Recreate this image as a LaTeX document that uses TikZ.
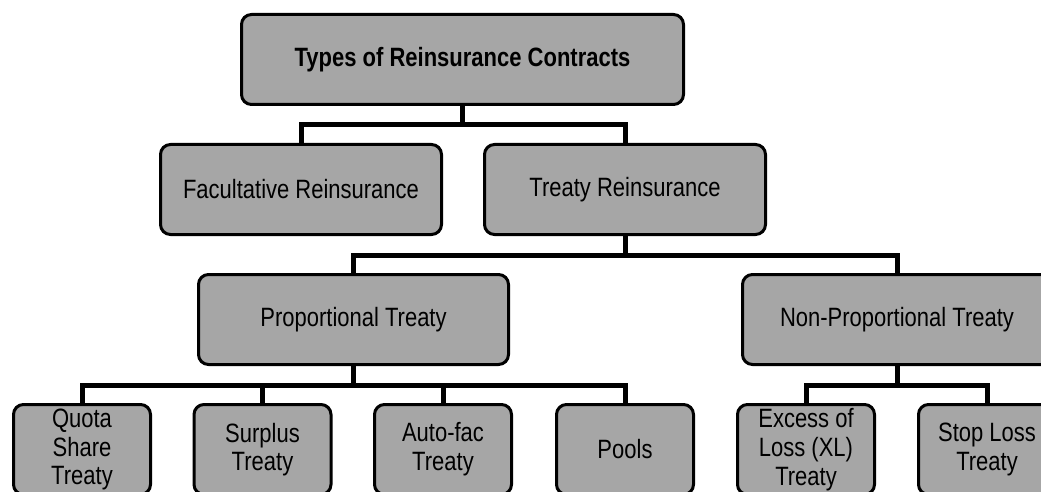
\documentclass[tikz,border=0pt]{standalone}
\usepackage{fontspec}
\setmainfont[FakeStretch=0.83]{Liberation Sans}
\definecolor{boxgray}{HTML}{A6A6A6}
\begin{document}
\begin{tikzpicture}[x=1pt,y=-1pt,
  box/.style={draw=black, line width=3pt, fill=boxgray, rounded corners=10pt,
    minimum height=90pt, inner sep=0pt, align=center,
    font=\fontsize{26.5}{28.7}\selectfont},
  link/.style={line width=5pt, line join=miter}]
\useasboundingbox (0,0) rectangle (1041,492);
\clip (0,0) rectangle (1041,492);

% level 0
\node[box, minimum width=442pt, font=\fontsize{26.5}{28.7}\selectfont\bfseries] (top) at (462.5,59.5) {Types of Reinsurance Contracts};

% level 1
\node[box, minimum width=281pt] (fac) at (301,189.5) {Facultative Reinsurance};
\node[box, minimum width=281pt] (treaty) at (625,189.5) {Treaty Reinsurance};

% level 2
\node[box, minimum width=310pt] (prop) at (353.5,319.5) {Proportional Treaty};
\node[box, minimum width=309pt] (nonprop) at (897,319.5) {Non-Proportional Treaty};

% level 3
\node[box, minimum width=137pt] (quota) at (82,449.5) {Quota\\Share\\Treaty};
\node[box, minimum width=137pt] (surplus) at (262.5,449.5) {Surplus\\Treaty};
\node[box, minimum width=137pt] (autofac) at (443,449.5) {Auto-fac\\Treaty};
\node[box, minimum width=137pt] (pools) at (625,449.5) {Pools};
\node[box, minimum width=137pt] (xl) at (806,449.5) {Excess of\\Loss (XL)\\Treaty};
\node[box, minimum width=137pt] (stop) at (987,449.5) {Stop Loss\\Treaty};

% horizontal bus levels
\coordinate (busA) at (0,125);
\coordinate (busB) at (0,255);
\coordinate (busC) at (0,385);

% connectors
\draw[link] (top.south) -- (top.south |- busA) -| (fac.north);
\draw[link] (top.south) -- (top.south |- busA) -| (treaty.north);
\draw[link] (treaty.south) -- (treaty.south |- busB) -| (prop.north);
\draw[link] (treaty.south) -- (treaty.south |- busB) -| (nonprop.north);
\draw[link] (prop.south) -- (prop.south |- busC) -| (quota.north);
\draw[link] (prop.south) -- (prop.south |- busC) -| (surplus.north);
\draw[link] (prop.south) -- (prop.south |- busC) -| (autofac.north);
\draw[link] (prop.south) -- (prop.south |- busC) -| (pools.north);
\draw[link] (nonprop.south) -- (nonprop.south |- busC) -| (xl.north);
\draw[link] (nonprop.south) -- (nonprop.south |- busC) -| (stop.north);
\end{tikzpicture}
\end{document}
